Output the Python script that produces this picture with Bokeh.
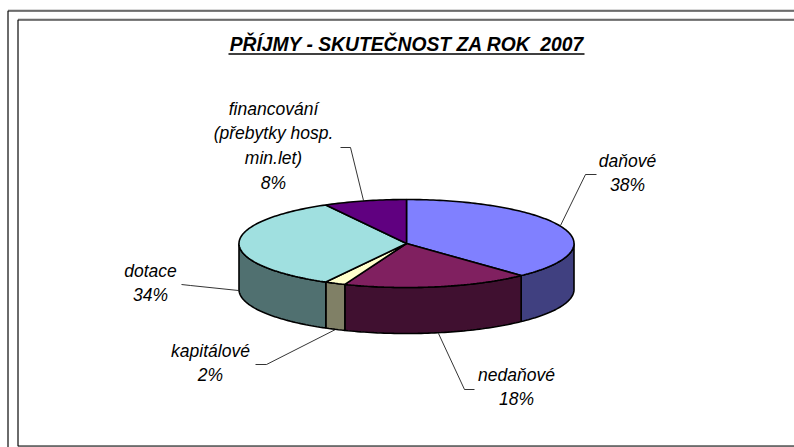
import math
from bokeh.plotting import figure
from bokeh.embed import file_html
from bokeh.resources import INLINE
from bokeh.core.properties import value

TITLE = "PŘÍJMY - SKUTEČNOST ZA ROK \u00a02007"
labels = [["daňové"], ["nedaňové"], ["kapitálové"], ["dotace"],
          ["financování", "(přebytky hosp.", "min.let)"]]
shares = [38, 18, 2, 34, 8]
top_colors = ["#8080FF", "#802060", "#FFFFCC", "#A0E0E0", "#600080"]
side_colors = ["#404080", "#401030", "#808066", "#507070", "#400060"]

W, H = 794, 447
CX, CY, RX, RY, DEPTH = 406, 243, 167.5, 44, 46
FONT = value("Liberation Sans")

label_pos = [(627, 160), (516, 374), (210, 350), (150, 270), (273, 108)]
leaders = [
    ([596, 585, 560], [174, 174, 225]),
    ([474, 464, 438], [389, 389, 333]),
    ([255, 266, 335], [364, 364, 329]),
    ([181, 190, 238], [284, 285, 290]),
    ([340, 350, 363], [147, 147, 200]),
]

p = figure(width=W, height=H, x_range=(0, W), y_range=(H, 0),
           toolbar_location=None, output_backend="svg", min_border=0, outline_line_color=None,
           background_fill_color="white", border_fill_color="white")
p.axis.visible = False
p.grid.visible = False

for color, off in (("#b0b0b0", -1), ("#000000", 0)):
    p.multi_line([[7.5, 7.5], [7.5, W]], [[H, 10.5 + off], [10.5 + off, 10.5 + off]],
                 line_color=color, line_width=1)
    p.multi_line([[17.5, 17.5], [17.5, W]], [[445.5 - off, 19.5 + off], [19.5 + off, 19.5 + off]],
                 line_color=color, line_width=1)
    p.line([17.5, W], [445.5 - off, 445.5 - off], line_color=color, line_width=1)


def pt(t, dy=0.0):
    return CX + RX * math.sin(t), CY - RY * math.cos(t) + dy


total = sum(shares)
cum = [0]
for s in shares:
    cum.append(cum[-1] + s)
angles = [c / total * 2 * math.pi for c in cum]

for i, s in enumerate(shares):
    a = max(angles[i], math.pi / 2)
    b = min(angles[i + 1], 3 * math.pi / 2)
    if b <= a:
        continue
    n = max(2, int((b - a) / 0.02))
    ts = [a + (b - a) * k / n for k in range(n + 1)]
    poly = [pt(t) for t in ts] + [pt(t, DEPTH) for t in reversed(ts)]
    p.patch([q[0] for q in poly], [q[1] for q in poly], fill_color=side_colors[i],
            line_color="black", line_width=1.6)

for i, s in enumerate(shares):
    a, b = angles[i], angles[i + 1]
    n = max(2, int((b - a) / 0.02))
    poly = [(CX, CY)] + [pt(a + (b - a) * k / n) for k in range(n + 1)]
    p.patch([q[0] for q in poly], [q[1] for q in poly], fill_color=top_colors[i],
            line_color="black", line_width=1.6)

for xs, ys in leaders:
    p.line(xs, ys, line_color="black", line_width=0.8)

LH = 24.7
for lab, s, (x, y) in zip(labels, shares, label_pos):
    lines = lab + [f"{s}%"]
    p.text([x] * len(lines), [y + LH * k for k in range(len(lines))], text=lines,
           text_font=FONT, text_font_style="italic", text_font_size="17.5px",
           text_align="center", text_baseline="alphabetic", text_color="black")

p.text([406.5], [44], text=[TITLE], text_font=FONT, text_font_style="bold italic",
       text_font_size="19.3px", text_align="center", text_baseline="alphabetic", text_color="black")
p.line([228, 584], [53.5, 53.5], line_color="black", line_width=1.3)

open("out.html", "w").write(file_html(p, INLINE))
